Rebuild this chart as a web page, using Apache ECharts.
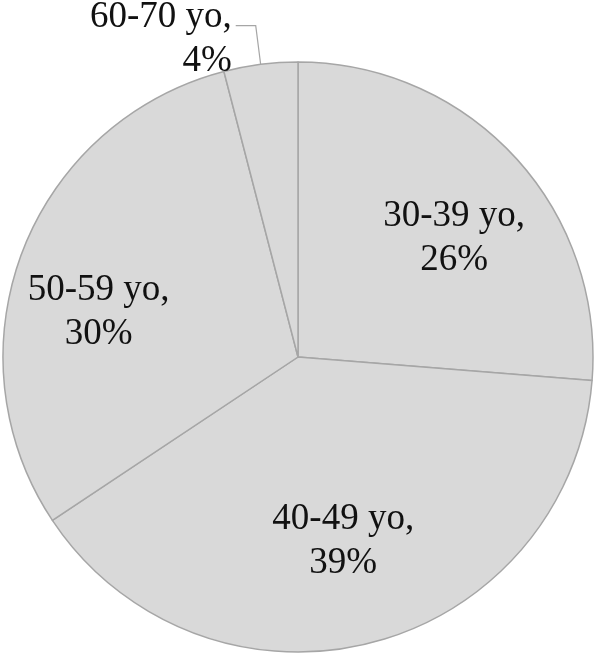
<!DOCTYPE html>
<html>
<head>
<meta charset="utf-8">
<style>
  html, body { margin: 0; padding: 0; background: #ffffff; }
  #chart { width: 596px; height: 656px; }
</style>
<script src="https://cdn.jsdelivr.net/npm/echarts@6/dist/echarts.min.js"></script>
</head>
<body>
<div id="chart"></div>
<script>
// Data
const categories = ['30-39 yo', '40-49 yo', '50-59 yo', '60-70 yo'];
const percents = [26, 39, 30, 4];

const chart = echarts.init(document.getElementById('chart'), null, { renderer: 'canvas' });

const FONT = "'Liberation Serif', 'Times New Roman', serif";
const center = [298, 357];
const R = 295;

// label nudges (style only)
const labelNudge = [[12, 14], [-4, -6], [-16, 25], [0, 0]];

const mainData = categories.map((c, i) => {
  const item = { name: c, value: percents[i] };
  if (i === 3) {
    item.label = {
      show: true,
      position: 'outside',
      formatter: '{b},\n{c}%',
      fontFamily: FONT,
      fontSize: 37,
      lineHeight: 44,
      color: '#111111',
      distanceToLabelLine: 4
    };
    item.labelLine = {
      show: true,
      length: 39,
      length2: 20,
      lineStyle: { color: '#a6a6a6', width: 1.2 }
    };
  } else {
    item.label = { show: false };
    item.labelLine = { show: false };
  }
  return item;
});

const labelData = categories.map((c, i) => ({
  name: c,
  value: percents[i],
  label: { show: i !== 3 }
}));

chart.setOption({
  backgroundColor: '#ffffff',
  animation: false,
  series: [
    {
      type: 'pie',
      center: center,
      radius: [0, R],
      startAngle: 90,
      clockwise: true,
      avoidLabelOverlap: false,
      silent: true,
      itemStyle: { color: '#d9d9d9', borderColor: '#a6a6a6', borderWidth: 1.5 },
      emphasis: { disabled: true },
      labelLayout: function (p) {
        if (p.dataIndex === 3) return { dy: 14 };
        return {};
      },
      data: mainData
    },
    {
      type: 'pie',
      center: center,
      radius: [0, R * 1.31],
      startAngle: 90,
      clockwise: true,
      avoidLabelOverlap: false,
      silent: true,
      z: 5,
      itemStyle: { color: 'rgba(0,0,0,0)', borderWidth: 0 },
      emphasis: { disabled: true },
      label: {
        show: true,
        position: 'inside',
        formatter: '{b},\n{c}%',
        fontFamily: FONT,
        fontSize: 37,
        lineHeight: 44,
        color: '#111111'
      },
      labelLine: { show: false },
      labelLayout: function (p) {
        const n = labelNudge[p.dataIndex];
        return { dx: n[0], dy: n[1] };
      },
      data: labelData
    }
  ]
});
</script>
</body>
</html>
